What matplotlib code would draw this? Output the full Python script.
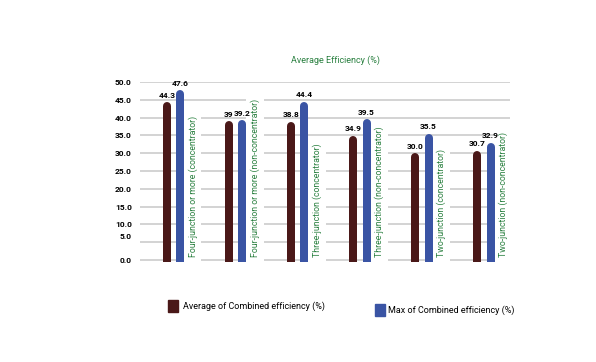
import numpy as np
import matplotlib.pyplot as plt
from matplotlib.patches import Patch

# data
categories = ['Four-junction or more (concentrator)',
              'Four-junction or more (non-concentrator)',
              'Three-junction (concentrator)',
              'Three-junction (non-concentrator)',
              'Two-junction (concentrator)',
              'Two-junction (non-concentrator)']
avg_eff = [44.3, 39.0, 38.8, 34.9, 30.0, 30.7]
max_eff = [47.6, 39.2, 44.4, 39.5, 35.5, 32.9]
avg_labels = ['44.3', '39', '38.8', '34.9', '30.0', '30.7']
max_labels = ['47.6', '39.2', '44.4', '39.5', '35.5', '32.9']
ytick_vals = [0, 6.7, 10, 15, 20, 25, 30, 35, 40, 45, 50]
ytick_labels = ['0.0', '5.0', '10.0', '15.0', '20.0', '25.0', '30.0',
                '35.0', '40.0', '45.0', '50.0']

c_avg = '#4a1818'
c_max = '#3a54a4'
c_green = '#2a8040'

fig = plt.figure(figsize=(5.96, 3.62), dpi=100)
ax = fig.add_axes([140/596, 1-262/362, 370/596, 180/362])
ax.set_xlim(-0.54, 5.42)
ax.set_ylim(-0.6, 50)

x = np.arange(len(categories))
off = 0.109
lw_pt = 8 * 72 / 100.0
r = 4 / 3.6  # cap radius in data units

# gridlines
for g in range(0, 55, 5):
    ax.axhline(g, color='#c8c8c8', lw=1.1, zorder=1)

for i in range(len(x)):
    ax.plot([x[i]-off, x[i]-off], [-5, avg_eff[i]-r], color=c_avg, lw=lw_pt,
            solid_capstyle='round', zorder=3)
    ax.plot([x[i]+off, x[i]+off], [-5, max_eff[i]-r], color=c_max, lw=lw_pt,
            solid_capstyle='round', zorder=3)
    ax.text(x[i]-off, avg_eff[i]+1.0, avg_labels[i], ha='center', va='bottom',
            fontsize=6, fontweight='bold', family='Roboto', zorder=4)
    ax.text(x[i]+off, max_eff[i]+1.0, max_labels[i], ha='center', va='bottom',
            fontsize=6, fontweight='bold', family='Roboto', zorder=4)
    ax.text(x[i]+0.31, 0.8, categories[i], rotation=90, ha='center', va='bottom',
            fontsize=6.3, color=c_green, family='Roboto', zorder=2,
            bbox=dict(boxstyle='square,pad=0.45', fc='white', ec='none'))

ax.set_yticks(ytick_vals)
ax.set_yticklabels(ytick_labels, fontsize=6, fontweight='bold', family='Roboto')
ax.tick_params(axis='y', length=0, pad=6)
ax.set_xticks([])
for s in ax.spines.values():
    s.set_visible(False)

fig.text(335/596, 1-60/362, 'Average Efficiency (%)', ha='center', va='center',
         fontsize=6.5, color=c_green, family='Roboto')

leg1 = fig.legend(handles=[Patch(color=c_avg, label='Average of Combined efficiency (%)')],
                  loc='center left', bbox_to_anchor=(160/596, 1-306/362), frameon=False,
                  prop={'family': 'Roboto', 'size': 6.45}, handlelength=1.1, handleheight=1.6,
                  handletextpad=0.6)
leg2 = fig.legend(handles=[Patch(color=c_max, label='Max of Combined efficiency (%)')],
                  loc='center left', bbox_to_anchor=(367/596, 1-310/362), frameon=False,
                  prop={'family': 'Roboto', 'size': 6.45}, handlelength=1.1, handleheight=1.6,
                  handletextpad=0.3)

fig.savefig('out.png', dpi=100)
